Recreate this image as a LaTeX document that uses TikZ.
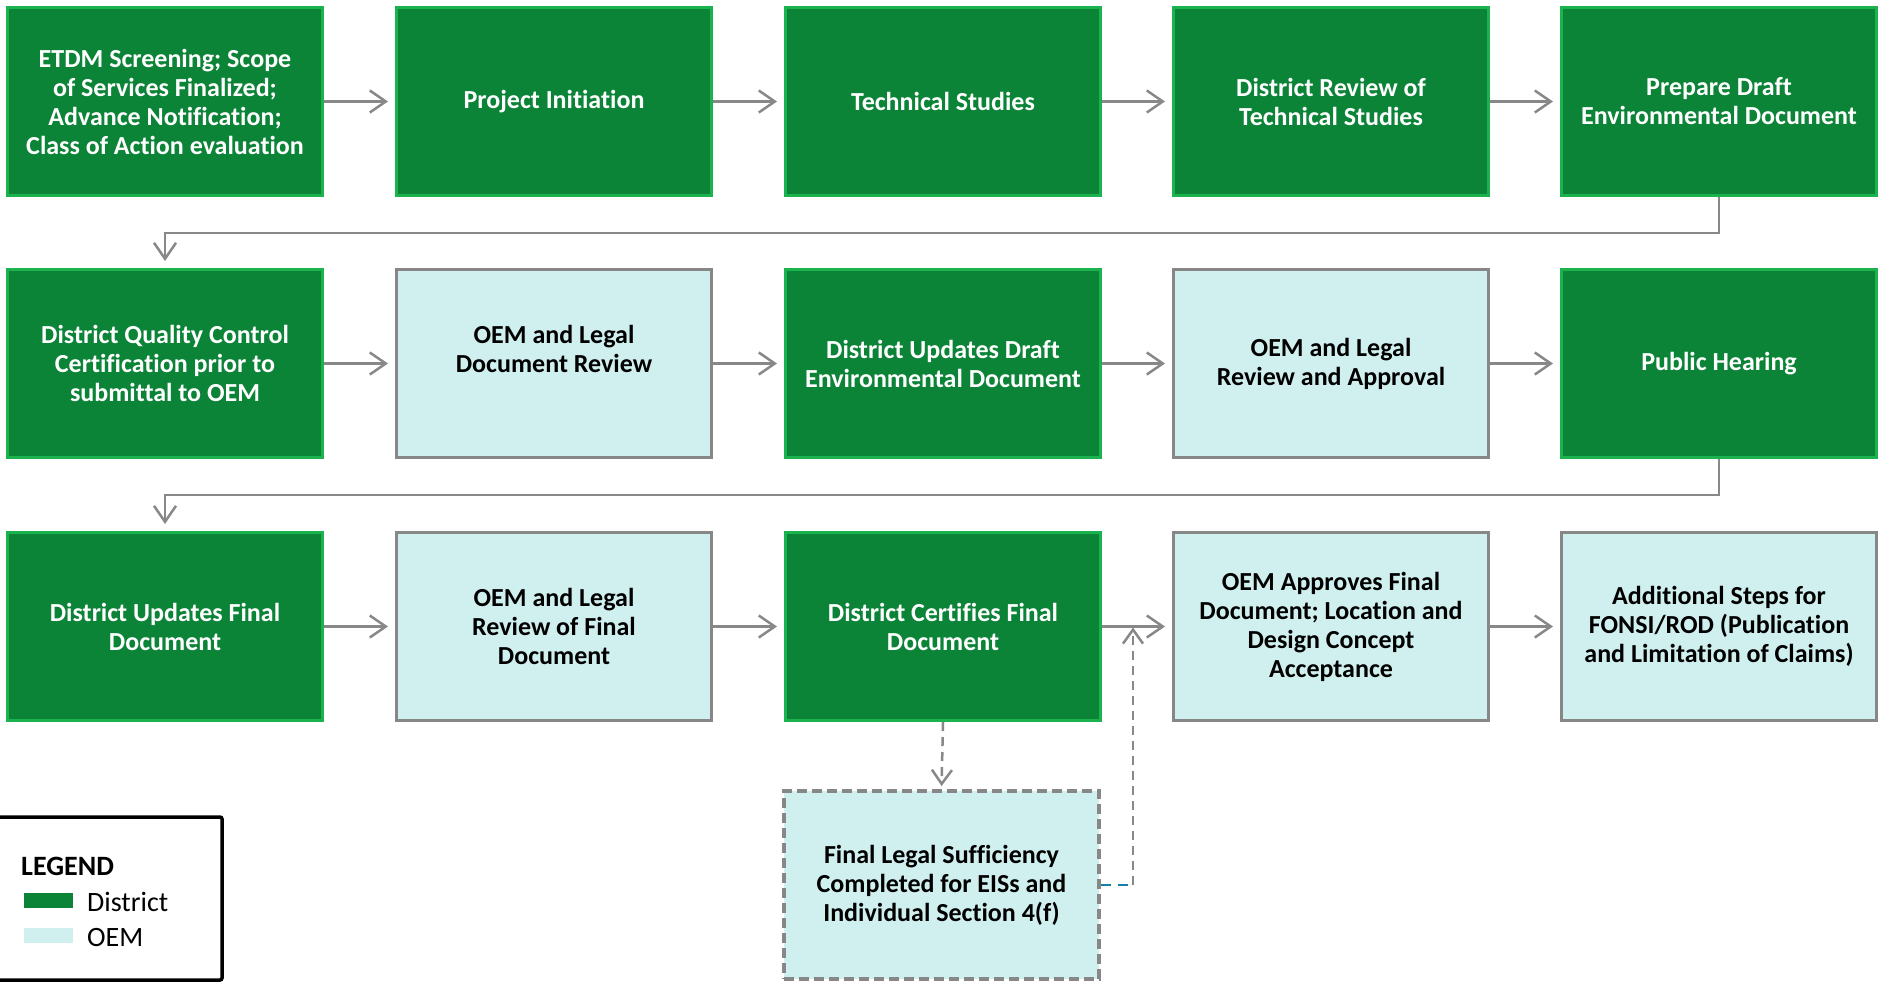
\documentclass[tikz,border=0pt]{standalone}
\usepackage{fontspec}
\setmainfont{Carlito}[Ligatures={NoCommon}]
\usetikzlibrary{arrows.meta}
\definecolor{dgreen}{HTML}{0C8438}
\definecolor{lgreen}{HTML}{1BB34E}
\definecolor{oemfill}{HTML}{D0F0EF}
\definecolor{bordgray}{HTML}{878787}
\definecolor{lnkgray}{HTML}{888888}
\definecolor{dashblue}{HTML}{1A7FA6}
\tikzset{
  basebox/.style={rectangle, minimum width=315pt, minimum height=188pt, inner sep=0pt,
    align=center, font=\fontsize{26}{29}\selectfont\bfseries, line width=3pt},
  distbox/.style={basebox, fill=dgreen, draw=lgreen, text=white},
  oembox/.style={basebox, fill=oemfill, draw=bordgray, text=black},
  legalbox/.style={basebox, fill=oemfill, draw=bordgray, text=black, line width=4pt,
    dash pattern=on 10pt off 5pt},
  arr/.style={draw=lnkgray, line width=2.5pt, -{Straight Barb[length=16pt, width=22pt, line width=2.5pt]}, shorten >=7pt},
  dasharr/.style={draw=lnkgray, line width=2.5pt, dash pattern=on 9pt off 6pt,
    -{Straight Barb[length=14pt, width=20pt, line width=2.5pt]}},
  bluedash/.style={draw=dashblue, line width=2.5pt, dash pattern=on 10pt off 7pt},
  legtext/.style={anchor=west, inner sep=0pt, font=\fontsize{28}{30}\selectfont}
}
\begin{document}
\begin{tikzpicture}[x=1pt, y=-1pt]
\useasboundingbox (0,0) rectangle (1879,983);
% row 1
\node[distbox] (a1) at (165,101.5) {ETDM Screening; Scope\\of Services Finalized;\\Advance Notification;\\Class of Action evaluation};
\node[distbox] (a2) at (554,101.5) {Project Initiation};
\node[distbox] (a3) at (943,101.5) {Technical Studies};
\node[distbox] (a4) at (1331,101.5) {District Review of\\Technical Studies};
\node[distbox] (a5) at (1719,101.5) {Prepare Draft\\Environmental Document};
% row 2
\node[distbox] (b1) at (165,363.5) {District Quality Control\\Certification prior to\\submittal to OEM};
\node[oembox] (b2) at (554,363.5) {OEM and Legal\\Document Review\\\mbox{}};
\node[distbox] (b3) at (943,363.5) {District Updates Draft\\Environmental Document};
\node[oembox] (b4) at (1331,363.5) {OEM and Legal\\Review and Approval};
\node[distbox] (b5) at (1719,363.5) {Public Hearing};
% row 3
\node[distbox] (c1) at (165,626.5) {District Updates Final\\Document};
\node[oembox] (c2) at (554,626.5) {OEM and Legal\\Review of Final\\Document};
\node[distbox] (c3) at (943,626.5) {District Certifies Final\\Document};
\node[oembox] (c4) at (1331,626.5) {OEM Approves Final\\Document; Location and\\Design Concept\\Acceptance};
\node[oembox] (c5) at (1719,626.5) {Additional Steps for\\FONSI/ROD (Publication\\and Limitation of Claims)};
% legal sufficiency
\node[legalbox] (fl) at (941.5,885) {Final Legal Sufficiency\\Completed for EISs and\\Individual Section 4(f)};
% arrows
\foreach \r in {a,b,c}{
  \draw[arr] (\r1.east) -- (\r2.west);
  \draw[arr] (\r2.east) -- (\r3.west);
  \draw[arr] (\r3.east) -- (\r4.west);
  \draw[arr] (\r4.east) -- (\r5.west);
}
\draw[arr] (a5.south) -- ++(0,36) -| (b1.north);
\draw[arr] (b5.south) -- ++(0,36) -| (c1.north);
\draw[dasharr, shorten >=3pt] (c3.south) -- (fl.north);
\path (fl.east) ++(32,0) coordinate (jn);
\draw[bluedash] (fl.east) -- (jn);
\draw[dasharr, shorten >=1pt] (jn) -- (jn |- c3.east);
% legend
\node[draw=black, line width=3.5pt, rounded corners=2pt, minimum width=236pt, minimum height=163pt, inner sep=0pt] (leg) at (104,898.5) {};
\node[anchor=west, inner sep=0pt, font=\fontsize{28}{30}\selectfont\bfseries] (legt) at (21,866) {LEGEND};
\node[fill=dgreen, minimum width=49pt, minimum height=15pt, inner sep=0pt] (sw1) at (48.5,900.5) {};
\node[fill=oemfill, minimum width=49pt, minimum height=15pt, inner sep=0pt] (sw2) at (48.5,935.5) {};
\node[legtext] (lt1) at (87,902) {District};
\node[legtext] (lt2) at (87,937) {OEM};
\end{tikzpicture}
\end{document}
